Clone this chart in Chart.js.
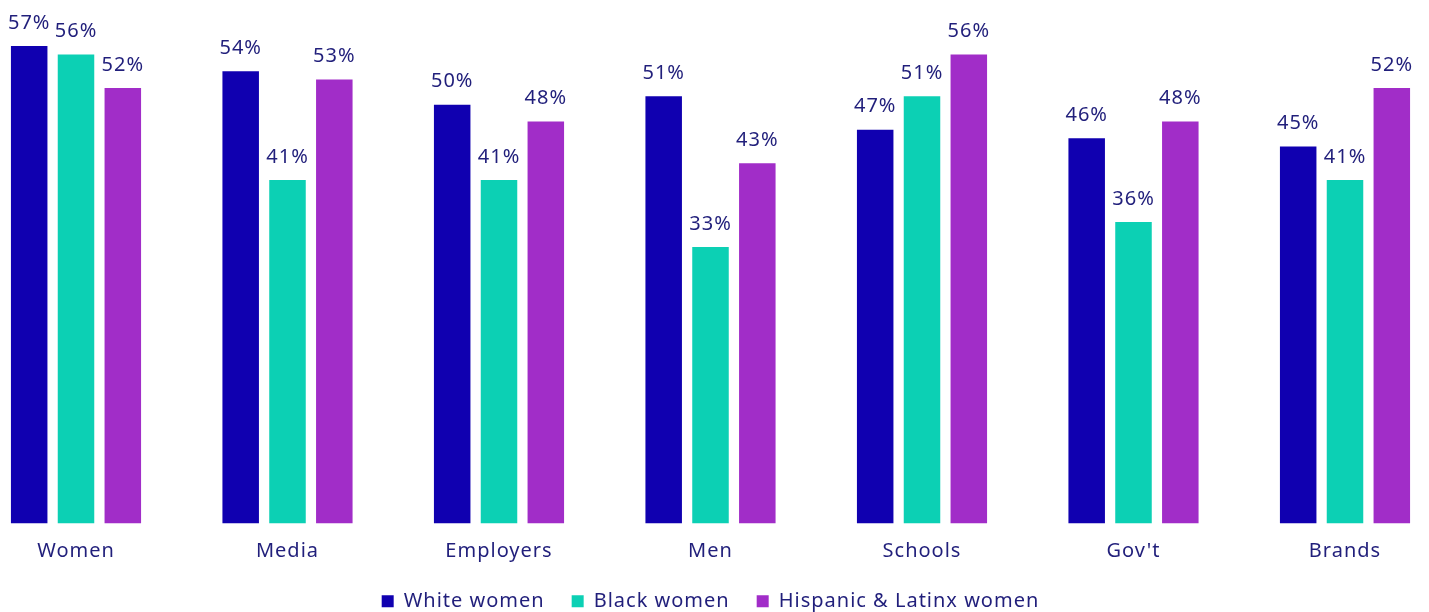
<!DOCTYPE html>
<html>
<head>
<meta charset="utf-8">
<script src="https://cdn.jsdelivr.net/npm/chart.js@4/dist/chart.umd.min.js"></script>
<style>
  body { margin: 0; background: #fff; }
  #wrap { position: relative; width: 1429px; height: 612px; }
</style>
</head>
<body>
<div id="wrap"><canvas id="chart"></canvas></div>
<script>
// categories and series
const categories = ['Women', 'Media', 'Employers', 'Men', 'Schools', "Gov't", 'Brands'];
const whiteWomen = [57, 54, 50, 51, 47, 46, 45];
const blackWomen = [56, 41, 41, 33, 51, 36, 41];
const hispanicWomen = [52, 53, 48, 43, 56, 48, 52];

const navy = '#211f7b';
const font = 'Noto Sans';

// wider letter spacing, like the original's font
const spacing = {
  id: 'spacing',
  beforeUpdate(chart) { chart.ctx.letterSpacing = '1px'; },
  beforeDraw(chart) { chart.ctx.letterSpacing = '1px'; }
};

// value labels above each bar
const valueLabels = {
  id: 'valueLabels',
  afterDatasetsDraw(chart) {
    const ctx = chart.ctx;
    ctx.save();
    ctx.font = '20px "' + font + '"';
    ctx.fillStyle = navy;
    ctx.textAlign = 'center';
    ctx.textBaseline = 'middle';
    chart.data.datasets.forEach((ds, i) => {
      chart.getDatasetMeta(i).data.forEach((bar, j) => {
        ctx.fillText(ds.data[j] + '%', bar.x, bar.y - 23);
      });
    });
    ctx.restore();
  }
};

new Chart(document.getElementById('chart'), {
  type: 'bar',
  data: {
    labels: categories,
    datasets: [
      { label: 'White women', data: whiteWomen, backgroundColor: '#1000b0' },
      { label: 'Black women', data: blackWomen, backgroundColor: '#0cd0b4' },
      { label: 'Hispanic & Latinx women', data: hispanicWomen, backgroundColor: '#a12dc8' }
    ]
  },
  options: {
    responsive: true,
    maintainAspectRatio: false,
    animation: false,
    categoryPercentage: 0.664,
    barPercentage: 0.78,
    clip: false,
    layout: {
      padding: { left: 76, right: 84, top: 0, bottom: 0 }
    },
    scales: {
      x: {
        offset: false,
        grid: { display: false, drawTicks: false },
        border: { display: false },
        ticks: {
          color: navy,
          padding: 16,
          maxRotation: 0,
          font: { family: font, size: 20 }
        },
        afterFit(scale) { scale.height = 41; }
      },
      y: {
        display: false,
        min: 0,
        max: 62.5
      }
    },
    plugins: {
      legend: {
        position: 'bottom',
        maxHeight: 47.7,
        labels: {
          color: navy,
          boxWidth: 12,
          boxHeight: 12,
          padding: 27,
          font: { family: font, size: 20 }
        }
      },
      tooltip: { enabled: false }
    }
  },
  plugins: [spacing, valueLabels]
});
</script>
</body>
</html>
